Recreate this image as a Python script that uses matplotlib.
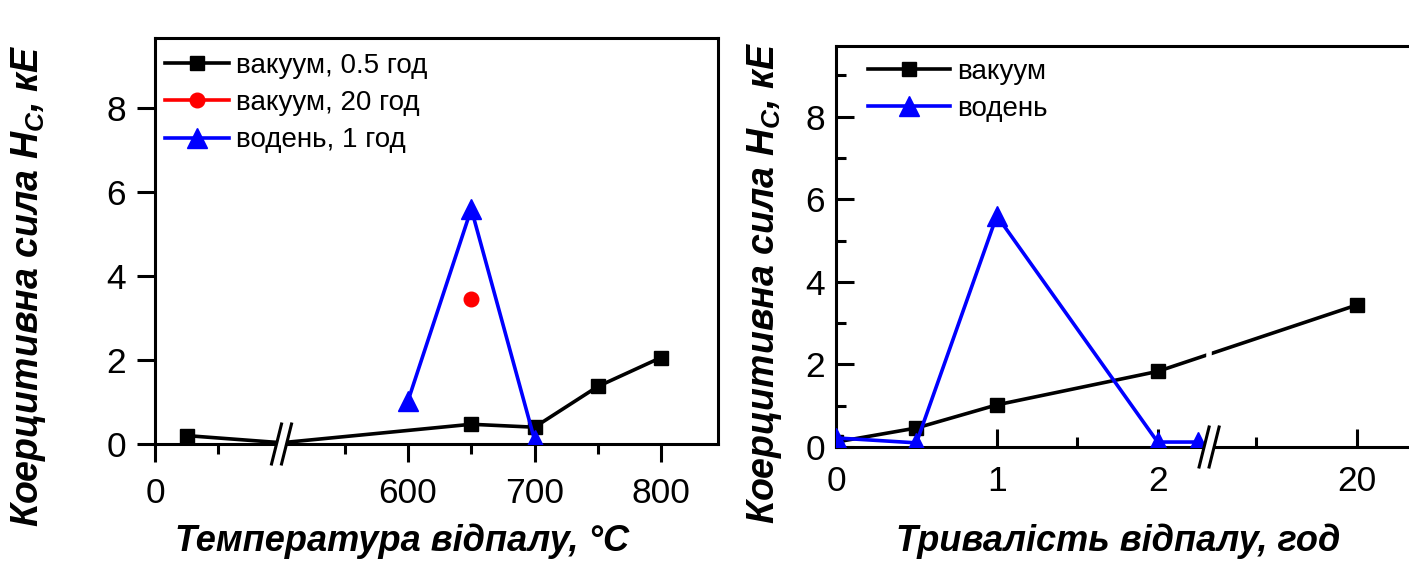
import numpy as np
import matplotlib
matplotlib.use("Agg")
import matplotlib.pyplot as plt

plt.rcParams["font.family"] = ["Liberation Sans", "DejaVu Sans"]
plt.rcParams["mathtext.fontset"] = "custom"
plt.rcParams["mathtext.it"] = "Liberation Sans:italic:bold"
plt.rcParams["mathtext.rm"] = "Liberation Sans:bold"

# ---- data: left panel (annealing temperature, deg C) ----
temp_vac05 = [25, 500, 650, 700, 750, 800]
hc_vac05 = [0.2, 0.03, 0.47, 0.4, 1.37, 2.06]
temp_vac20 = [650]
hc_vac20 = [3.45]
temp_h2 = [600, 650, 700]
hc_h2 = [1.03, 5.6, 0.1]

# ---- data: right panel (annealing time, hours) ----
time_vac = [0, 0.5, 1, 2, 20]
hc_vac = [0.12, 0.46, 1.02, 1.83, 3.44]
time_h2 = [0, 0.5, 1, 2, 2.25]
hc_h2_t = [0.22, 0.1, 5.6, 0.12, 0.12]

ylabel = "Коерцитивна сила $H_C$, кЕ"

# broken x scales (piecewise linear)
L_real = [-100, 100, 500, 1000]
L_plot = [-100, 100, 100.01, 600.01]
R_real = [-10, 2.32, 5.4, 20, 100]
R_plot = [-10, 2.32, 2.3201, 3.24, 8.28]


def make_scale(real, plot):
    fwd = lambda x: np.interp(x, real, plot)
    inv = lambda y: np.interp(y, plot, real)
    return fwd, inv


fig = plt.figure(figsize=(14.09, 5.67), dpi=100)
W, H = 1409, 567

axL = fig.add_axes([155 / W, (H - 444) / H, (718 - 155) / W, (444 - 38) / H])
axR = fig.add_axes([836 / W, (H - 447) / H, (1431 - 836) / W, (447 - 46) / H])

fL = make_scale(L_real, L_plot)
fR = make_scale(R_real, R_plot)
axL.set_xscale("function", functions=fL)
axR.set_xscale("function", functions=fR)

lw = 2.6
axL.plot(temp_vac05, hc_vac05, "-s", color="black", lw=lw, ms=10.5,
         markevery=[0, 2, 3, 4, 5], label="вакуум, 0.5 год", zorder=3)
axL.plot(temp_vac20, hc_vac20, "-o", color="red", lw=lw, ms=10.5,
         label="вакуум, 20 год", zorder=3)
axL.plot(temp_h2, hc_h2, "-^", color="blue", lw=lw, ms=14,
         label="водень, 1 год", zorder=3)

axR.plot(time_vac, hc_vac, "-s", color="black", lw=lw, ms=10.5,
         label="вакуум", zorder=3)
axR.plot(time_h2, hc_h2_t, "-^", color="blue", lw=lw, ms=14,
         label="водень", zorder=3)

axL.set_xlim(0, 845)
axL.set_ylim(0, 9.67)
axR.set_xlim(0, 27.3)
axR.set_ylim(0, 9.71)

axL.set_xticks([0, 600, 700, 800])
axL.set_xticks([50, 550, 650, 750], minor=True)
axL.set_yticks([0, 2, 4, 6, 8])
axR.set_xticks([0, 1, 2, 20])
axR.set_xticklabels(["0", "1", "2", "20"])
axR.set_xticks([0.5, 1.5, 10], minor=True)
axR.set_yticks([0, 2, 4, 6, 8])
axR.set_yticks([1, 3, 5, 7, 9], minor=True)

for ax in (axL, axR):
    for s in ax.spines.values():
        s.set_linewidth(2.2)
    ax.tick_params(labelsize=25.5, width=2.2)
    ax.set_ylabel(ylabel, fontsize=27, fontweight="bold", style="italic")

axL.tick_params(which="major", direction="out", length=13)
axL.tick_params(which="minor", direction="out", length=7, width=2.2)
axL.tick_params(axis="y", pad=8)
axL.tick_params(axis="x", pad=11)
axR.tick_params(which="major", direction="in", length=13)
axR.tick_params(which="minor", direction="in", length=7, width=2.2)
axR.tick_params(axis="y", pad=8)
axR.tick_params(axis="x", pad=13)

axL.set_xlabel("Температура відпалу, °C", fontsize=26, fontweight="bold",
               style="italic")
axR.set_xlabel("Тривалість відпалу, год", fontsize=26, fontweight="bold",
               style="italic")
axL.xaxis.set_label_coords(0.439, -0.195)
axR.xaxis.set_label_coords(0.474, -0.19)
axL.yaxis.set_label_coords(-0.19, 0.39)
axR.yaxis.set_label_coords(-0.088, 0.41)

legkw = dict(frameon=False, fontsize=20, handletextpad=0.25,
             labelspacing=0.4, borderpad=0, borderaxespad=0, loc="upper left")
axL.legend(bbox_to_anchor=(0.018, 0.963), handlelength=2.3, **legkw)
axR.legend(bbox_to_anchor=(0.054, 0.968), handlelength=2.95, **legkw)


def draw_break(ax, xb, fwd, wpx, hpx):
    x0, x1 = ax.get_xlim()
    xf = (fwd(xb) - fwd(x0)) / (fwd(x1) - fwd(x0))
    dx = 5.0 / wpx
    gap = 5.0 / wpx
    dy = 20.0 / hpx
    xa, xb2 = xf - gap, xf + gap
    poly = plt.Polygon([(xa - dx, -dy), (xb2 - dx, -dy), (xb2 + dx, dy), (xa + dx, dy)],
                       closed=True, transform=ax.transAxes, facecolor="white",
                       edgecolor="none", clip_on=False, zorder=5)
    ax.add_patch(poly)
    for xc in (xa, xb2):
        ax.plot([xc - dx, xc + dx], [-dy, dy], transform=ax.transAxes,
                color="black", lw=2.2, clip_on=False, zorder=6)
    return xf


draw_break(axL, 300, fL[0], 563, 406)
xf = draw_break(axR, 4.0, fR[0], 595, 401)
axR.plot([xf, xf], [0.08, 0.97], transform=axR.transAxes, color="white",
         lw=4, zorder=4)

fig.savefig("out.png", dpi=100)
